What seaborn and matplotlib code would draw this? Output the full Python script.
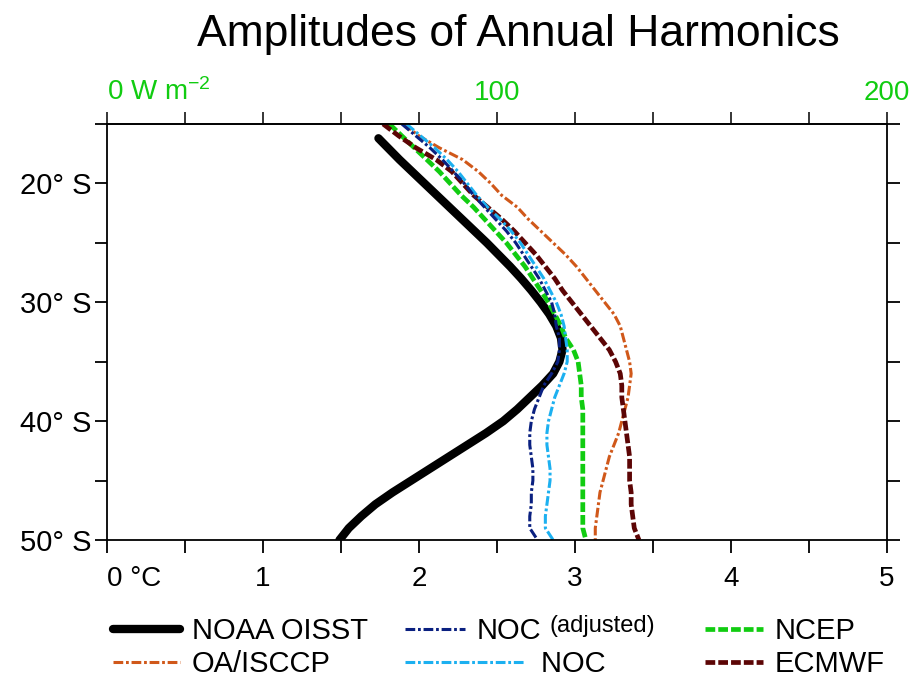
import matplotlib
matplotlib.use("Agg")
import matplotlib.pyplot as plt
from matplotlib.ticker import MultipleLocator, FixedLocator
from matplotlib.legend_handler import HandlerLine2D
import seaborn as sns

# latitude in degrees south
lat = list(range(15, 51))
lat_oisst = [16.2] + list(range(17, 51))

# amplitudes of the annual harmonic (deg C; top axis is W m-2 = 40 x deg C)
oisst = [1.74, 1.80, 1.875, 1.955, 2.035, 2.115, 2.195, 2.275, 2.355, 2.435,
         2.51, 2.585, 2.655, 2.72, 2.78, 2.835, 2.88, 2.91, 2.92, 2.90,
         2.86, 2.79, 2.71, 2.63, 2.54, 2.43, 2.31, 2.19, 2.07, 1.95,
         1.83, 1.72, 1.63, 1.55, 1.49]
oa_isccp = [1.90, 2.00, 2.13, 2.28, 2.38, 2.46, 2.53, 2.63, 2.70, 2.78,
            2.86, 2.94, 3.01, 3.07, 3.13, 3.19, 3.25, 3.29, 3.31, 3.33,
            3.35, 3.36, 3.35, 3.34, 3.32, 3.30, 3.28, 3.25, 3.22, 3.20,
            3.18, 3.16, 3.15, 3.14, 3.13, 3.13]
ncep = [1.81, 1.89, 1.97, 2.05, 2.13, 2.20, 2.27, 2.35, 2.42, 2.49,
        2.56, 2.62, 2.68, 2.73, 2.78, 2.83, 2.87, 2.91, 2.94, 2.99,
        3.02, 3.03, 3.04, 3.04, 3.05, 3.05, 3.05, 3.05, 3.05, 3.05,
        3.05, 3.05, 3.05, 3.05, 3.05, 3.07]
ecmwf = [1.77, 1.87, 1.98, 2.11, 2.21, 2.28, 2.35, 2.44, 2.53, 2.61,
         2.68, 2.75, 2.81, 2.87, 2.92, 2.98, 3.04, 3.10, 3.16, 3.22,
         3.26, 3.29, 3.30, 3.30, 3.31, 3.32, 3.33, 3.34, 3.35, 3.35,
         3.35, 3.36, 3.36, 3.37, 3.38, 3.41]
noc = [1.92, 2.01, 2.10, 2.18, 2.25, 2.31, 2.37, 2.44, 2.52, 2.59,
       2.65, 2.70, 2.75, 2.80, 2.84, 2.88, 2.91, 2.93, 2.94, 2.95,
       2.95, 2.93, 2.90, 2.87, 2.85, 2.83, 2.82, 2.82, 2.83, 2.84,
       2.84, 2.83, 2.82, 2.81, 2.81, 2.86]
noc_adj = [1.89, 1.98, 2.07, 2.15, 2.22, 2.29, 2.35, 2.42, 2.49, 2.56,
           2.62, 2.67, 2.72, 2.77, 2.81, 2.85, 2.87, 2.88, 2.90, 2.90,
           2.89, 2.85, 2.80, 2.77, 2.74, 2.72, 2.71, 2.71, 2.72, 2.73,
           2.73, 2.72, 2.72, 2.71, 2.71, 2.76]

x_ticks = [0, 1, 2, 3, 4, 5]
x_labels = ["0 °C", "1", "2", "3", "4", "5"]
top_ticks = [0, 100, 200]
top_labels = ["0 W m$^{-2}$", "100", "200"]
y_ticks = [20, 30, 40, 50]
y_labels = ["20° S", "30° S", "40° S", "50° S"]

sns.set_style("ticks")
plt.rcParams["font.family"] = ["Liberation Sans", "DejaVu Sans"]
plt.rcParams["text.color"] = "black"
plt.rcParams["mathtext.fontset"] = "custom"
plt.rcParams["mathtext.rm"] = "Liberation Sans"
plt.rcParams["mathtext.it"] = "Liberation Sans:italic"
plt.rcParams["mathtext.bf"] = "Liberation Sans:bold"
plt.rcParams["lines.scale_dashes"] = False

green_txt = "#11cc11"
W, H = 915, 678
fig = plt.figure(figsize=(W / 100, H / 100), dpi=100)
ax = fig.add_axes([107 / W, 1 - 540 / H, 780 / W, 416 / H])

dashdot = (0, (7, 2, 2, 2))
dashed = (0, (7, 2.2))

series = [
    ("NOAA OISST", oisst, lat_oisst, "black", 6.0, "-"),
    ("OA/ISCCP", oa_isccp, lat, "#d0581a", 2.2, dashdot),
    ("NCEP", ncep, lat, "#11cc11", 3.4, dashed),
    ("ECMWF", ecmwf, lat, "#5c0505", 3.4, dashed),
    ("NOC", noc, lat, "#1cb0f0", 2.2, dashdot),
    ("NOC (adjusted)", noc_adj, lat, "#0a2080", 2.2, dashdot),
]
for name, vals, lats, col, lw, ls in series:
    sns.lineplot(x=vals, y=lats, orient="y", sort=False, estimator=None,
                 color=col, linewidth=lw, linestyle=ls, label=name, ax=ax)

ax.set_xlim(0, 5)
ax.set_ylim(50, 15)
ax.xaxis.set_major_locator(FixedLocator(x_ticks))
ax.set_xticklabels(x_labels)
ax.xaxis.set_minor_locator(MultipleLocator(0.5))
ax.set_yticks(y_ticks)
ax.set_yticklabels(y_labels)
ax.yaxis.set_minor_locator(FixedLocator([15, 25, 35, 45]))
for s in ax.spines.values():
    s.set_visible(True)
    s.set_linewidth(1.3)
    s.set_color("black")
ax.tick_params(which="both", direction="out", length=9, width=1.3,
               right=True, labelright=False, top=False, colors="black")
ax.tick_params(axis="x", which="major", labelsize=20, pad=10)
ax.tick_params(axis="y", which="major", labelsize=21, pad=2)
ax.get_xticklabels()[0].set_horizontalalignment("left")
ax.set_xlabel("")
ax.set_ylabel("")

sec = ax.secondary_xaxis("top", functions=(lambda c: c * 40, lambda w: w / 40))
sec.set_xticks(top_ticks, labels=top_labels)
sec.xaxis.set_minor_locator(MultipleLocator(20))
sec.tick_params(which="both", direction="out", length=9, width=1.3)
sec.tick_params(axis="x", which="major", labelsize=20, labelcolor=green_txt, pad=4)
sec.spines["top"].set_linewidth(1.3)
sec.get_xticklabels()[0].set_horizontalalignment("left")

fig.text(0.566, 1 - 46 / H, "Amplitudes of Annual Harmonics",
         fontsize=32, ha="center", va="baseline")


class LongHandler(HandlerLine2D):
    def create_artists(self, legend, orig_handle, xdescent, ydescent,
                       width, height, fontsize, trans):
        return super().create_artists(legend, orig_handle, xdescent, ydescent,
                                      width * 2.0, height, fontsize, trans)


handles, labels = ax.get_legend_handles_labels()
if ax.get_legend() is not None:
    ax.get_legend().remove()
lookup = dict(zip(labels, handles))

shown = {"NOC (adjusted)": "NOC", "NOC": "        NOC"}
columns = [(113, ["NOAA OISST", "OA/ISCCP"], 2.3),
           (405, ["NOC (adjusted)", "NOC"], 2.05),
           (705, ["NCEP", "ECMWF"], 2.0)]
legends = []
for x0, keys, hl in columns:
    leg = fig.legend([lookup[k] for k in keys], [shown.get(k, k) for k in keys],
                     loc="upper left", bbox_to_anchor=(x0 / W, 1 - 617 / H),
                     frameon=False, fontsize=21, handlelength=hl,
                     handletextpad=0.4, borderpad=0, borderaxespad=0,
                     labelspacing=0.18,
                     handler_map={lookup["NOC"]: LongHandler()})
    legends.append(leg)

# small raised "(adjusted)" after the first NOC label
fig.canvas.draw()
bb = legends[1].get_texts()[0].get_window_extent()
fig.text((bb.x1 + 8) / W, (bb.y1 + 2) / H, "(adjusted)", fontsize=17,
         ha="left", va="top")

fig.savefig("out.png", dpi=100)
